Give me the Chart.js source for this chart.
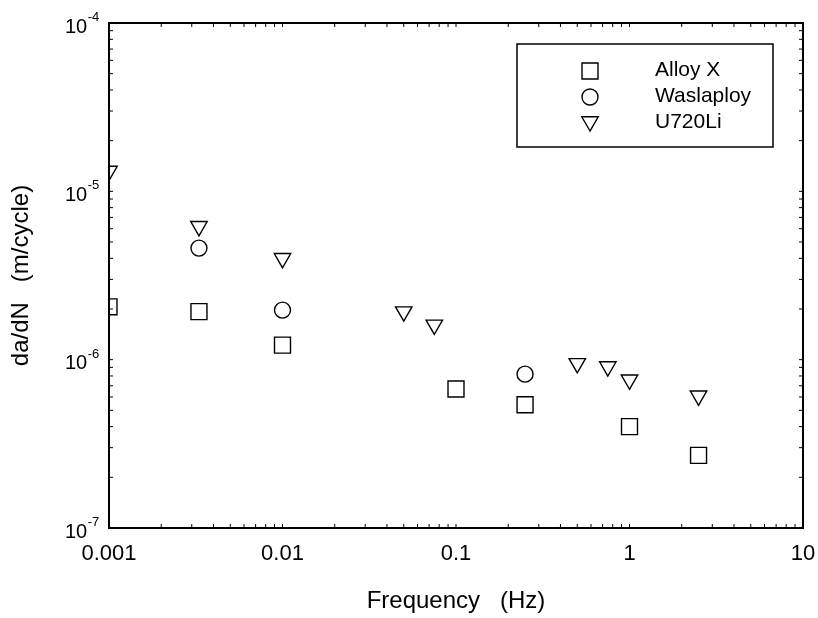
<!DOCTYPE html>
<html>
<head>
<meta charset="utf-8">
<script src="https://cdn.jsdelivr.net/npm/chart.js@4/dist/chart.umd.min.js"></script>
<style>
html,body{margin:0;padding:0;background:#fff;}
canvas{display:block;}
</style>
</head>
<body>
<canvas id="c" width="818" height="618"></canvas>
<script>
// ---- data ----
const seriesNames = ['Alloy X', 'Waslaploy', 'U720Li'];

const freqAlloyX = [0.001, 0.0033, 0.01, 0.1, 0.25, 1, 2.5];
const rateAlloyX = [2.06e-6, 1.93e-6, 1.22e-6, 6.7e-7, 5.4e-7, 4.0e-7, 2.7e-7];

const freqWaslaploy = [0.0033, 0.01, 0.25];
const rateWaslaploy = [4.6e-6, 1.97e-6, 8.2e-7];

const freqU720Li = [0.001, 0.0033, 0.01, 0.05, 0.075, 0.5, 0.75, 1, 2.5];
const rateU720Li = [1.32e-5, 6.2e-6, 4.0e-6, 1.93e-6, 1.61e-6, 9.5e-7, 9.1e-7, 7.6e-7, 6.1e-7];

const xTickValues = [0.001, 0.01, 0.1, 1, 10];
const xTickLabels = ['0.001', '0.01', '0.1', '1', '10'];
const yTickValues = [1e-7, 1e-6, 1e-5, 1e-4];
const yTickExponents = ['-7', '-6', '-5', '-4'];

const xTitle = 'Frequency   (Hz)';
const yTitle = 'da/dN   (m/cycle)';

// ---- chart ----
const FONT = '"Liberation Sans", Arial, Helvetica, sans-serif';

function toPoints(xs, ys) { return xs.map((x, i) => ({x: x, y: ys[i]})); }

function decadeTicks(min, max) {
  const out = [];
  const e0 = Math.round(Math.log10(min)), e1 = Math.round(Math.log10(max));
  for (let e = e0; e < e1; e++) {
    for (let d = 1; d < 10; d++) out.push({value: d * Math.pow(10, e), major: d === 1});
  }
  out.push({value: Math.pow(10, e1), major: true});
  return out;
}

function sameLog(a, b) { return Math.abs(Math.log10(a) - Math.log10(b)) < 1e-6; }

function drawMarker(ctx, style, radius, rotation, x, y) {
  if (Chart.helpers && Chart.helpers.drawPoint) {
    Chart.helpers.drawPoint(ctx, {pointStyle: style, radius: radius, rotation: rotation, borderWidth: 1.4}, x, y);
    return;
  }
  ctx.beginPath();
  if (style === 'circle') ctx.arc(x, y, radius, 0, Math.PI * 2);
  else if (style === 'rect') { const s = radius * Math.SQRT1_2; ctx.rect(x - s, y - s, 2 * s, 2 * s); }
  else { ctx.moveTo(x, y + radius); ctx.lineTo(x - radius * 0.866, y - radius / 2); ctx.lineTo(x + radius * 0.866, y - radius / 2); ctx.closePath(); }
  ctx.stroke();
}

const framePlugin = {
  id: 'frame',
  afterDatasetsDraw(chart) {
    const {ctx, chartArea: a, scales} = chart;
    const xs = scales.x, ys = scales.y;
    ctx.save();
    ctx.strokeStyle = '#000';
    ctx.lineWidth = 1;
    ctx.beginPath();
    xs.ticks.forEach(t => {
      const p = xs.getPixelForValue(t.value);
      if (p < a.left + 1 || p > a.right - 1) return;
      ctx.moveTo(p, a.bottom); ctx.lineTo(p, a.bottom - 4);
      ctx.moveTo(p, a.top); ctx.lineTo(p, a.top + 4);
    });
    ys.ticks.forEach(t => {
      const p = ys.getPixelForValue(t.value);
      if (p < a.top + 1 || p > a.bottom - 1) return;
      ctx.moveTo(a.left, p); ctx.lineTo(a.left + 4, p);
      ctx.moveTo(a.right, p); ctx.lineTo(a.right - 4, p);
    });
    ctx.stroke();
    ctx.lineWidth = 2;
    ctx.strokeRect(a.left, a.top, a.right - a.left, a.bottom - a.top);

    // y tick labels with superscript exponents
    ctx.fillStyle = '#000';
    ctx.textAlign = 'left';
    ctx.textBaseline = 'alphabetic';
    yTickValues.forEach((v, i) => {
      const p = ys.getPixelForValue(v);
      ctx.font = '20px ' + FONT;
      ctx.fillText('10', a.left - 44, p + 9.5);
      const w = ctx.measureText('10').width;
      ctx.font = '13px ' + FONT;
      ctx.fillText(yTickExponents[i], a.left - 44 + w + 0.5, p - 2);
    });

    // legend box
    const bx = a.left + 408, by = a.top + 21, bw = 256, bh = 103;
    ctx.lineWidth = 1.5;
    ctx.strokeRect(bx, by, bw, bh);
    const rowY = [by + 27, by + 53, by + 79];
    chart.data.datasets.forEach((ds, i) => {
      ctx.strokeStyle = '#000';
      ctx.fillStyle = 'rgba(0,0,0,0)';
      ctx.lineWidth = 1.4;
      drawMarker(ctx, ds.pointStyle, ds.pointRadius, ds.pointRotation || 0, bx + 73, rowY[i] + (ds.pointStyle === 'triangle' ? -1.5 : 0));
      ctx.fillStyle = '#000';
      ctx.font = '21px ' + FONT;
      ctx.textBaseline = 'middle';
      ctx.fillText(ds.label, bx + 138, rowY[i] - 1);
    });
    ctx.restore();
  }
};

const common = {
  showLine: false,
  borderColor: '#000',
  backgroundColor: 'rgba(0,0,0,0)',
  pointBorderColor: '#000',
  pointBackgroundColor: 'rgba(0,0,0,0)',
  pointBorderWidth: 1.4,
  pointHoverBorderWidth: 1.4
};

new Chart(document.getElementById('c'), {
  type: 'scatter',
  data: {
    datasets: [
      Object.assign({label: seriesNames[0], data: toPoints(freqAlloyX, rateAlloyX), pointStyle: 'rect', pointRadius: 11.3, pointHoverRadius: 11.3, pointRotation: 0}, common),
      Object.assign({label: seriesNames[1], data: toPoints(freqWaslaploy, rateWaslaploy), pointStyle: 'circle', pointRadius: 8, pointHoverRadius: 8, pointRotation: 0}, common),
      Object.assign({label: seriesNames[2], data: toPoints(freqU720Li, rateU720Li), pointStyle: 'triangle', pointRadius: 9.5, pointHoverRadius: 9.5, pointRotation: 180}, common)
    ]
  },
  options: {
    responsive: false,
    animation: false,
    devicePixelRatio: 1,
    events: [],
    layout: {padding: {top: 23, right: 15, left: 0, bottom: 0}},
    plugins: {legend: {display: false}, tooltip: {enabled: false}},
    scales: {
      x: {
        type: 'logarithmic',
        position: 'bottom',
        min: 0.001, max: 10,
        afterBuildTicks: s => { s.ticks = decadeTicks(0.001, 10); },
        afterFit: s => { s.height = 90; s.paddingLeft = 0; s.paddingRight = 0; },
        grid: {display: false, drawTicks: false, tickLength: 0},
        border: {display: false},
        ticks: {
          autoSkip: false, maxRotation: 0, minRotation: 0, padding: 13, color: '#000',
          font: {family: FONT, size: 22},
          callback: (value) => {
            const k = xTickValues.findIndex(v => sameLog(v, value));
            return k >= 0 ? xTickLabels[k] : '';
          }
        },
        title: {display: true, text: xTitle, color: '#000', font: {family: FONT, size: 24}, padding: {top: 0, bottom: 2}}
      },
      y: {
        type: 'logarithmic',
        position: 'left',
        min: 1e-7, max: 1e-4,
        afterBuildTicks: s => { s.ticks = decadeTicks(1e-7, 1e-4); },
        afterFit: s => { s.width = 109; s.paddingTop = 0; s.paddingBottom = 0; },
        grid: {display: false, drawTicks: false, tickLength: 0},
        border: {display: false},
        ticks: {display: false},
        title: {display: true, text: yTitle, color: '#000', font: {family: FONT, size: 24}, padding: {top: 7, bottom: 0}}
      }
    }
  },
  plugins: [framePlugin]
});
</script>
</body>
</html>
